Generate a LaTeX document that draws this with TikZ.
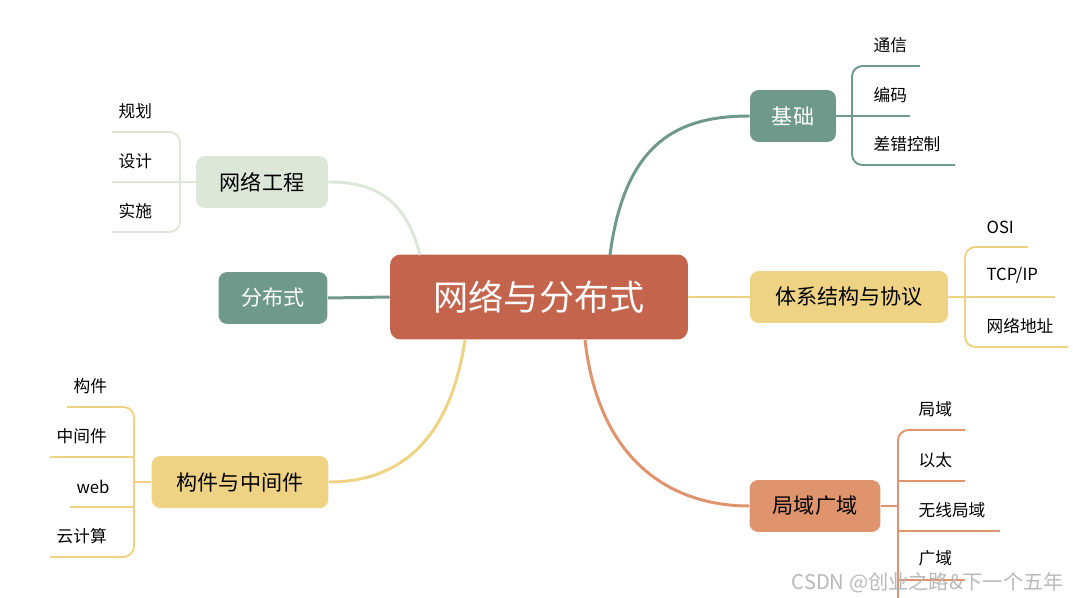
\documentclass[tikz,border=0pt]{standalone}
\usepackage{fontspec}
\setmainfont{Noto Sans CJK SC}
\usetikzlibrary{calc}
\definecolor{corecolor}{HTML}{C4644D}
\definecolor{tealcolor}{HTML}{6F9A8B}
\definecolor{palecolor}{HTML}{DDE7D8}
\definecolor{sandcolor}{HTML}{EFD384}
\definecolor{peachcolor}{HTML}{E0946E}

\begin{document}
\begin{tikzpicture}[x=0.02cm, y=-0.02cm,
    core/.style={fill=corecolor, rounded corners=6pt, minimum width=5.96cm, minimum height=1.7cm, text=white, font=\fontsize{20}{22}\selectfont},
    branch/.style={rounded corners=5pt, minimum height=1.04cm, inner xsep=8pt, font=\fontsize{12}{14}\selectfont},
    leaf/.style={anchor=south west, inner sep=3pt, yshift=4.5pt, font=\fontsize{9.5}{11}\selectfont},
    link/.style={line width=1.7pt},
    twig/.style={line width=1.1pt, rounded corners=6pt}
]
    \useasboundingbox (0,0) rectangle (1073,598);

    % centre and branches
    \node[core] (center) at (539,297) {网络与分布式};
    \node[branch, fill=tealcolor, text=white, minimum width=1.72cm] (base) at (793,116) {基础};
    \node[branch, fill=sandcolor, minimum width=3.96cm] (arch) at (849,297) {体系结构与协议};
    \node[branch, fill=peachcolor, minimum width=2.62cm] (area) at (815,506) {局域广域};
    \node[branch, fill=palecolor, minimum width=2.64cm] (eng) at (262,182) {网络工程};
    \node[branch, fill=tealcolor, text=white, minimum width=2.18cm] (dist) at (273,298) {分布式};
    \node[branch, fill=sandcolor, minimum width=3.54cm] (comp) at (240,482) {构件与中间件};

    % main links
    \draw[link, tealcolor] (610,255) .. controls (625,140) and (680,116) .. (base.west);
    \draw[link, sandcolor] (center.east) -- (arch.west);
    \draw[link, peachcolor] (585,340) .. controls (600,470) and (680,506) .. (area.west);
    \draw[link, palecolor] (420,255) .. controls (405,195) and (370,182) .. (eng.east);
    \draw[link, tealcolor] (center.west) -- (dist.east);
    \draw[link, sandcolor] (465,340) .. controls (450,440) and (400,482) .. (comp.east);

    % base leaves
    \draw[twig, tealcolor] (base.east) -- (852,116) -- (910,116);
    \draw[twig, tealcolor] (920,66) -- (852,66) -- (852,165) -- (955,165);
    \node[leaf] (b1) at (868,66) {通信};
    \node[leaf] (b2) at (868,116) {编码};
    \node[leaf] (b3) at (868,165) {差错控制};

    % arch leaves
    \draw[twig, sandcolor] (arch.east) -- (965,297) -- (1055,297);
    \draw[twig, sandcolor] (1028,247) -- (965,247) -- (965,347) -- (1068,347);
    \node[leaf] (a1) at (981,247) {OSI};
    \node[leaf] (a2) at (981,297) {TCP/IP};
    \node[leaf] (a3) at (981,347) {网络地址};

    % area leaves
    \draw[twig, peachcolor] (area.east) -- (898,506);
    \draw[twig, peachcolor] (965,430) -- (898,430) -- (898,598);
    \draw[twig, peachcolor] (898,481) -- (965,481);
    \draw[twig, peachcolor] (898,531) -- (1000,531);
    \draw[twig, peachcolor] (898,580) -- (965,580);
    \node[leaf] (r1) at (913,430) {局域};
    \node[leaf] (r2) at (913,481) {以太};
    \node[leaf] (r3) at (913,531) {无线局域};
    \node[leaf] (r4) at (913,580) {广域};

    % eng leaves
    \draw[twig, palecolor] (eng.west) -- (180,182) -- (112,182);
    \draw[twig, palecolor] (112,132) -- (180,132) -- (180,232) -- (112,232);
    \node[leaf] (e1) at (113,132) {规划};
    \node[leaf] (e2) at (113,182) {设计};
    \node[leaf] (e3) at (113,232) {实施};

    % comp leaves
    \draw[twig, sandcolor] (comp.west) -- (134,482);
    \draw[twig, sandcolor] (67,407) -- (134,407) -- (134,557) -- (50,557);
    \draw[twig, sandcolor] (134,457) -- (50,457);
    \draw[twig, sandcolor] (134,507) -- (70,507);
    \node[leaf] (c1) at (68,407) {构件};
    \node[leaf] (c2) at (51,457) {中间件};
    \node[leaf] (c3) at (71,507) {web};
    \node[leaf] (c4) at (51,557) {云计算};

    \node[anchor=east, text=gray!55, font=\fontsize{11.5}{13}\selectfont] (mark) at (1070,583) {CSDN @创业之路\&下一个五年};
\end{tikzpicture}
\end{document}
